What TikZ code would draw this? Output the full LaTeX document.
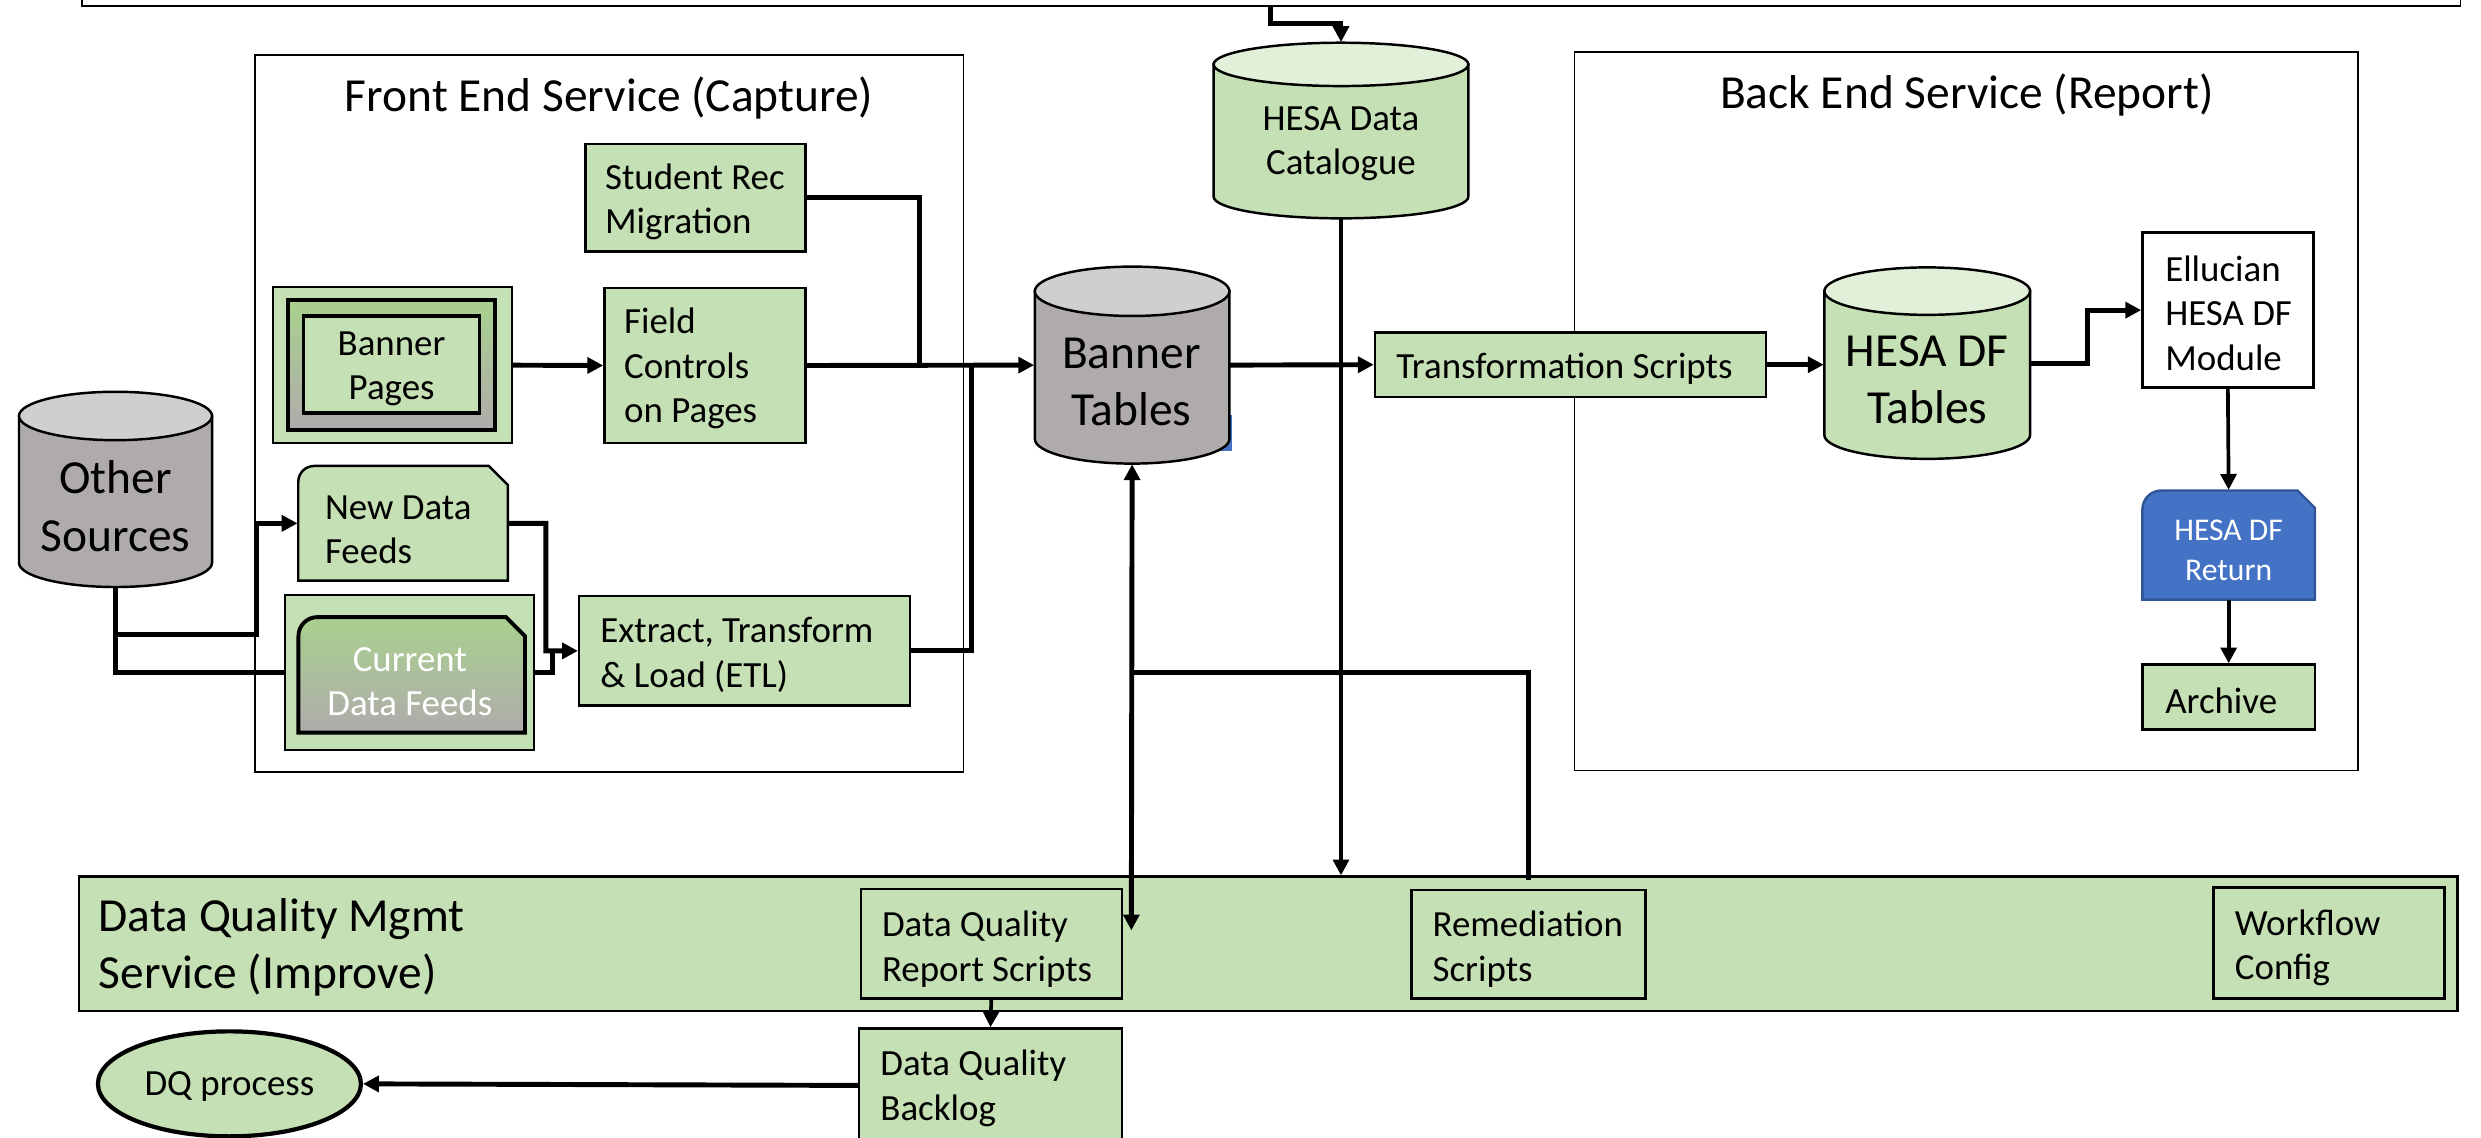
\documentclass[tikz,border=0pt]{standalone}
\usepackage{fontspec}
\setmainfont{Carlito}
\usetikzlibrary{arrows.meta,shapes.geometric,fit}
\definecolor{lgreen}{HTML}{C5E0B4}
\definecolor{ltop}{HTML}{E2F0D9}
\definecolor{mgreen}{HTML}{A9D18E}
\definecolor{dgrey}{HTML}{AFABAB}
\definecolor{lgrey}{HTML}{D0CECE}
\definecolor{mblue}{HTML}{4472C4}
\definecolor{bblue}{HTML}{2F5597}
\def\myu{0.015823}
% cylinder: #1 name, #2 x1, #3 x2, #4 ytop, #5 ybot, #6 ry, #7 body fill, #8 top fill
\newcommand{\mycyl}[8]{%
  \pgfmathsetmacro\cylrx{(#3-#2)/2*\myu}%
  \pgfmathsetmacro\cylry{#6*\myu}%
  \pgfmathsetmacro\cylcx{(#2+#3)/2}%
  \pgfmathsetmacro\cylyA{#4+#6}%
  \pgfmathsetmacro\cylyB{#5-#6}%
  \pgfmathsetmacro\cylcy{(#4+#5)/2}%
  \pgfmathsetmacro\cylw{(#3-#2)*\myu}%
  \pgfmathsetmacro\cylh{(#5-#4)*\myu}%
  \filldraw[fill=#7, line width=0.7pt] (#2,\cylyA) -- (#2,\cylyB) arc[start angle=180,end angle=360,x radius=\cylrx cm,y radius=\cylry cm] -- (#3,\cylyA) -- cycle;
  \filldraw[fill=#8, line width=0.7pt] (\cylcx,\cylyA) ellipse[x radius=\cylrx cm,y radius=\cylry cm];
  \node[inner sep=0pt, minimum width=\cylw cm, minimum height=\cylh cm] (#1) at (\cylcx,\cylcy) {};
}
% snipped box: #1 x1, #2 ytop, #3 x2, #4 ybot, #5 snip, #6 radius, #7 style
\newcommand{\mysnip}[7]{%
  \pgfmathsetmacro\snr{#6*\myu}%
  \path[#7] (#1,#4) -- (#1,{#2+#6}) arc[start angle=180,end angle=90,radius=\snr cm] -- ({#3-#5},#2) -- (#3,{#2+#5}) -- (#3,#4) -- cycle;
}
\begin{document}
\begin{tikzpicture}[x=0.015823cm,y=-0.015823cm,
  cont/.style={draw=black, line width=0.5pt, inner sep=0pt},
  gbox/.style={draw=black, fill=lgreen, line width=0.7pt, inner sep=0pt},
  area/.style={inner sep=0pt},
  mt/.style={font=\fontsize{10.5}{12.6}\selectfont, align=left, inner sep=0pt, yshift=-0.03cm},
  bigt/.style={font=\fontsize{13.5}{16.3}\selectfont, align=center, inner sep=0pt, yshift=-0.03cm},
  smt/.style={font=\fontsize{9}{11.2}\selectfont, align=center, inner sep=0pt, text=white, yshift=-0.02cm},
  cl/.style={line width=1.4pt},
  tl/.style={line width=1.05pt},
  arr/.style={-{Triangle[length=4.5pt,width=4.5pt]}}
]
\useasboundingbox (0,0) rectangle (1568,718.6);

% containers
\node[cont, fit={(51.6,-40) (1555,4)}] (tb) {};
\node[cont, fit={(161,35) (609,488)}] (fe) {};
\node[cont, fit={(995,33) (1490,487)}] (be) {};
\node[bigt] (feT) at (385,60) {Front End Service (Capture)};
\node[bigt] (beT) at (1243,58) {Back End Service (Report)};

% DQ band
\node[gbox, fit={(50,554) (1553,639)}] (dq) {};
\node[bigt, align=left, anchor=west] (dqT) at (62,597) {Data Quality Mgmt\\Service (Improve)};

% front end boxes
\node[gbox, fit={(370,91) (509,159)}] (srm) {};
\node[mt, anchor=west] (srmT) at (382,125.5) {Student Rec\\Migration};
\node[gbox, fit={(382,182) (509,280)}] (fcp) {};
\node[mt, anchor=west] (fcpT) at (394,231) {Field\\Controls\\on Pages};

\node[draw, fill=lgreen, line width=0.5pt, inner sep=0pt, fit={(172.5,181.6) (323.6,280)}] (bpo) {};
\node[draw, line width=1.1pt, top color=mgreen, bottom color=dgrey, inner sep=0pt, fit={(182,189.6) (313,272)}] (bpm) {};
\node[draw, fill=lgreen, line width=0.9pt, inner sep=0pt, fit={(192,199.7) (303,261)}] (bpi) {};
\node[mt, align=center] (bpT) at (247.5,231) {Banner\\Pages};

\mysnip{188.5}{294.5}{321}{367}{12}{10}{draw, fill=lgreen, line width=0.7pt}
\node[area, fit={(188.5,294.5) (321,367)}] (ndf) {};
\node[mt, anchor=west] (ndfT) at (205,333) {New Data\\Feeds};

\node[draw, fill=lgreen, line width=0.5pt, inner sep=0pt, fit={(180,376) (337.6,474)}] (cdf) {};
\mysnip{188.6}{390}{331.8}{463}{12}{12}{draw, line width=1.1pt, top color=mgreen, bottom color=dgrey}
\node[area, fit={(188.6,390) (331.8,463)}] (cdfi) {};
\node[mt, align=center, text=white] (cdfT) at (259,429) {Current\\Data Feeds};

\node[gbox, fit={(366,376.7) (575,446)}] (etl) {};
\node[mt, anchor=west] (etlT) at (379,412) {Extract, Transform\\\& Load (ETL)};

% cylinders
\mycyl{os}{12}{134}{247.6}{371}{15.3}{dgrey}{lgrey}
\node[bigt] (osT) at (73,318) {Other\\Sources};
\fill[mblue] (771,262) rectangle (778.5,285);
\mycyl{btab}{654}{777}{168.5}{293}{15.6}{dgrey}{lgrey}
\node[bigt] (btabT) at (715,239.5) {Banner\\Tables};
\mycyl{cat}{767}{928}{27}{138}{13.7}{lgreen}{ltop}
\node[mt, align=center] (catT) at (847.5,89) {HESA Data\\Catalogue};
\mycyl{hdf}{1153}{1283}{169}{290}{15}{lgreen}{ltop}
\node[bigt] (hdfT) at (1218,238) {HESA DF\\Tables};

% back end boxes
\node[gbox, fit={(869,210) (1116,251)}] (ts) {};
\node[mt, anchor=west] (tsT) at (882,231) {Transformation Scripts};
\node[draw, fill=white, line width=0.7pt, inner sep=0pt, fit={(1354,147) (1462,245)}] (ell) {};
\node[mt, anchor=west] (ellT) at (1368,196) {Ellucian\\HESA DF\\Module};
\mysnip{1354}{310}{1463}{379}{11}{12}{draw=bblue, fill=mblue, line width=0.7pt}
\node[area, fit={(1354,310) (1463,379)}] (ret) {};
\node[smt] (retT) at (1408.5,346.5) {HESA DF\\Return};
\node[gbox, fit={(1354,420) (1463,461)}] (arc) {};
\node[mt, anchor=west] (arcT) at (1368,441) {Archive};

% DQ boxes
\node[gbox, fit={(544,562) (709,631)}] (dqr) {};
\node[mt, anchor=west] (dqrT) at (557,598) {Data Quality\\Report Scripts};
\node[gbox, fit={(892,562.5) (1040,631)}] (rem) {};
\node[mt, anchor=west] (remT) at (905,598) {Remediation\\Scripts};
\node[gbox, fit={(1399,561) (1545,631)}] (wf) {};
\node[mt, anchor=west] (wfT) at (1412,597) {Workflow\\Config};
\node[gbox, fit={(543,650) (709,722)}] (dqb) {};
\node[mt, anchor=west] (dqbT) at (556,686) {Data Quality\\Backlog};
\node[draw, ellipse, fill=lgreen, line width=1.2pt, inner sep=0pt, minimum width=2.63cm, minimum height=1.05cm] (dqp) at (145,685) {};
\node[mt] (dqpT) at (145,685) {DQ process};

% junctions
\coordinate (j1) at (581,231);
\coordinate (j2) at (614,231);
\coordinate (j3) at (73,401);
\coordinate (j4) at (162,401);
\coordinate (j5) at (345,411.35);
\coordinate (j6) at (349,411.35);
\coordinate (j7) at (1319,229.5);
\coordinate (j8) at (803,4);
\coordinate (j9) at (847.5,14.7);
\coordinate (j10) at (715,588);
\coordinate (j11) at (715,425);
\coordinate (j12) at (966,556);

% connectors
\draw[cl, arr] (bpo.east) -- (fcp.west);
\draw[cl, arr] (fcp.east) -- (btab.west);
\draw[cl] (srm.east) -| (j1);
\draw[cl] (etl.east) -| (j2);
\draw[cl] (os.south) -- (j3);
\draw[cl, arr] (j3) -- (j4) |- (ndf.west);
\draw[cl] (j3) |- (cdf.west);
\draw[cl, arr] (ndf.east) -| (j5) -- (etl.west);
\draw[cl] (cdf.east) -| (j6);
\draw[cl, arr] (btab.east) -- (ts.west);
\draw[cl, arr] (ts.east) -- (ts.east -| hdf.west);
\draw[cl, arr] (hdf.east) -- (j7) |- (ell.west);
\draw[tl, arr] (ell.south) -- (ret.north);
\draw[tl, arr] (ret.south) -- (arc.north);
\draw[cl, arr] (j8) |- (j9) -- (cat.north);
\draw[tl, arr] (cat.south) -- (cat.south |- dq.north);
\draw[cl, {Triangle[length=4.5pt,width=4.5pt]}-{Triangle[length=4.5pt,width=4.5pt]}] (btab.south) -- (j10);
\draw[cl] (j11) -| (j12);
\draw[tl, arr] (dqr.south) -- (dqb.north);
\draw[cl, arr] (dqb.west) -- (dqp.east);
\end{tikzpicture}
\end{document}
